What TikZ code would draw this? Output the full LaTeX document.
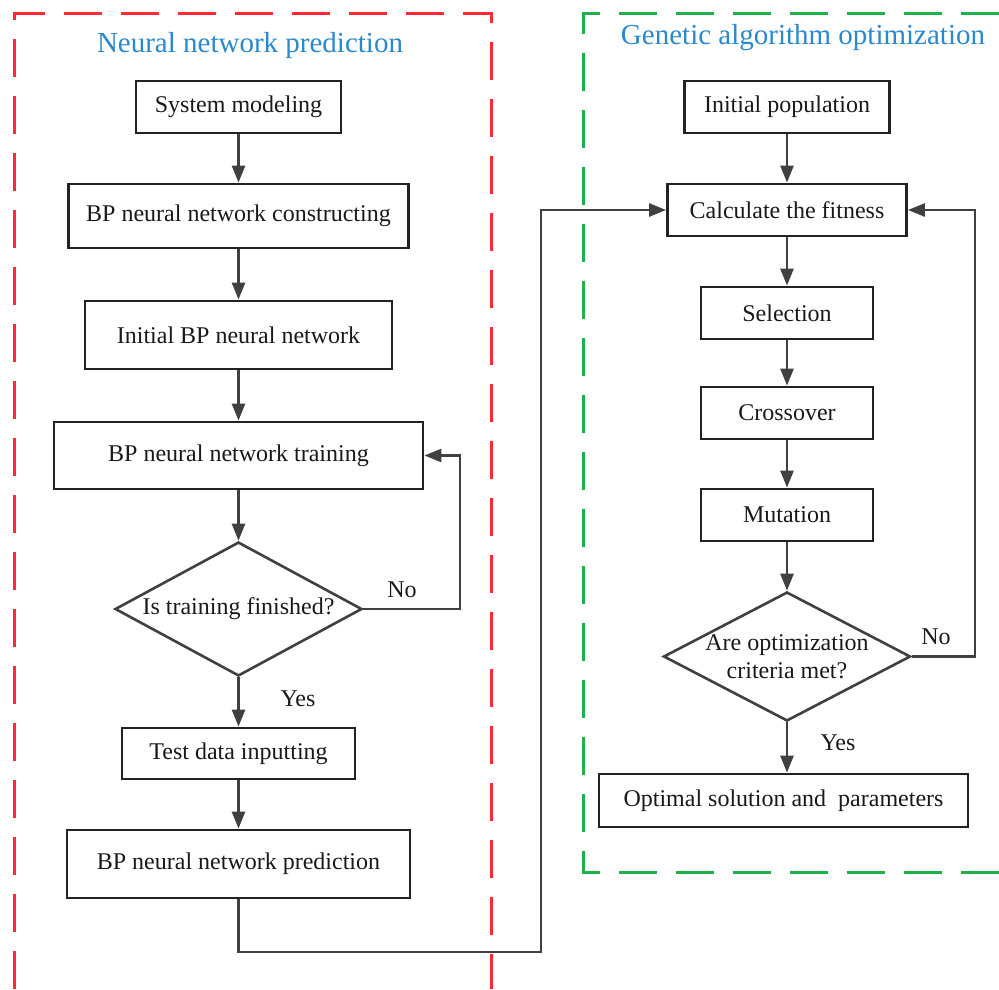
\documentclass[tikz,border=0pt]{standalone}
\usepackage{fontspec}
\setmainfont{Liberation Serif}
\usetikzlibrary{arrows.meta,shapes.geometric}
\definecolor{linec}{HTML}{404040}
\definecolor{boxc}{HTML}{222222}
\definecolor{titlec}{HTML}{2A88CC}
\definecolor{redc}{HTML}{FF2A35}
\definecolor{greenc}{HTML}{20B04C}
\begin{document}
\begin{tikzpicture}[x=1pt,y=-1pt,
  every node/.style={font=\fontsize{24}{28}\selectfont, text=black!90},
  box/.style={draw=boxc, line width=2.8pt, inner sep=0pt, rectangle},
  dia/.style={draw=linec, line width=2.6pt, diamond, inner sep=0pt},
  conn/.style={draw=linec, line width=2.6pt},
  arr/.style={conn, -{Triangle[length=17pt,width=13pt]}},
  ttl/.style={font=\fontsize{29}{34}\selectfont, text=titlec},
  frame/.style={line width=3pt, dash pattern=on 38pt off 19pt}
]
\useasboundingbox (0,0) rectangle (999,989);

% frames
\draw[frame, redc] (14,989) -- (14,13) -- (491,13) -- (491,989);
\draw[frame, greenc] (999,13) -- (583,13) -- (583,872) -- (999,872);

% titles
\node[ttl] (t1) at (250,46) {Neural network prediction};
\node[ttl] (t2) at (803,38) {Genetic algorithm optimization};

% left column
\node[box, minimum width=205pt, minimum height=52pt] (sys) at (238.5,107) {System modeling};
\node[box, minimum width=340pt, minimum height=64pt] (cons) at (238.5,216) {BP neural network constructing};
\node[box, minimum width=307pt, minimum height=68pt] (init) at (238.5,335) {Initial BP neural network};
\node[box, minimum width=369pt, minimum height=67pt] (train) at (238.5,455.5) {BP neural network training};
\node[dia, minimum width=247pt, minimum height=134pt, label={center:Is training finished?}] (d1) at (238.5,609) {};
\node[box, minimum width=233pt, minimum height=51pt] (test) at (238.5,753.5) {Test data inputting};
\node[box, minimum width=343pt, minimum height=68pt] (pred) at (238.5,864) {BP neural network prediction};

% right column
\node[box, minimum width=205pt, minimum height=52pt] (ipop) at (787,107) {Initial population};
\node[box, minimum width=239pt, minimum height=52pt] (fit) at (787,210) {Calculate the fitness};
\node[box, minimum width=172pt, minimum height=52pt] (sel) at (787,313) {Selection};
\node[box, minimum width=172pt, minimum height=52pt] (cross) at (787,413) {Crossover};
\node[box, minimum width=172pt, minimum height=52pt] (mut) at (787,515) {Mutation};
\node[dia, minimum width=247pt, minimum height=129pt, label={[align=center]center:Are optimization\\criteria met?}] (d2) at (787,656.5) {};
\node[box, minimum width=369pt, minimum height=53pt] (opt) at (783.5,800.5) {Optimal solution and~ parameters};

% labels
\node (no1) at (402,590) {No};
\node (yes1) at (298,699) {Yes};
\node (no2) at (936,637) {No};
\node (yes2) at (838,743) {Yes};

% connectors left
\draw[arr] (sys) -- (cons);
\draw[arr] (cons) -- (init);
\draw[arr] (init) -- (train);
\draw[arr] (train) -- (d1);
\draw[arr] (d1) -- (test);
\draw[arr] (test) -- (pred);
\coordinate (r1) at (460,609);
\draw[arr] (d1.east) -- (r1) |- (train.east);

% connectors right
\draw[arr] (ipop) -- (fit);
\draw[arr] (fit) -- (sel);
\draw[arr] (sel) -- (cross);
\draw[arr] (cross) -- (mut);
\draw[arr] (mut) -- (d2);
\draw[arr] (d2.south) -- (d2.south |- opt.north);
\coordinate (r2) at (975,656.5);
\draw[arr] (d2.east) -- (r2) |- (fit.east);

% link between parts
\coordinate (lb) at (541,952);
\draw[arr] (pred.south) |- (lb) |- (fit.west);
\end{tikzpicture}
\end{document}
